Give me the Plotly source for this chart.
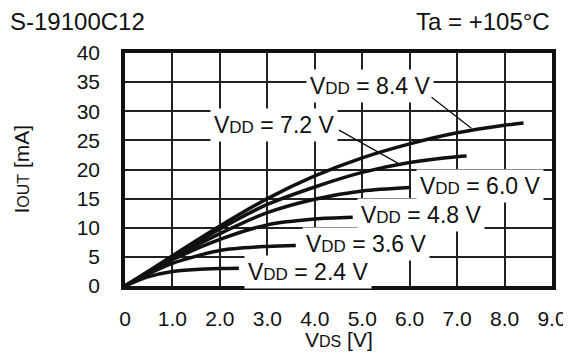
import plotly.graph_objects as go

# ---- data ----
vdd_labels = ["8.4", "7.2", "6.0", "4.8", "3.6", "2.4"]
x_84 = [0, 0.5, 1, 2, 3, 4, 5, 6, 7, 8, 8.4]
i_84 = [0, 2.6, 5.2, 10.3, 15.0, 18.9, 22.0, 24.4, 26.3, 27.6, 28.0]
x_72 = [0, 0.5, 1, 2, 3, 4, 5, 6, 7, 7.2]
i_72 = [0, 2.5, 5.0, 9.8, 14.0, 17.0, 19.5, 21.2, 22.2, 22.3]
x_60 = [0, 0.5, 1, 2, 3, 4, 5, 6]
i_60 = [0, 2.45, 4.8, 9.0, 12.6, 14.9, 16.3, 16.9]
x_48 = [0, 0.5, 1, 2, 3, 4, 4.8]
i_48 = [0, 2.3, 4.5, 8.0, 10.5, 11.5, 11.8]
x_36 = [0, 0.5, 1, 2, 3, 3.6]
i_36 = [0, 2.1, 3.9, 6.1, 6.8, 6.95]
x_24 = [0, 0.5, 1, 1.5, 2, 2.4]
i_24 = [0, 1.6, 2.5, 2.85, 3.0, 3.05]

xs = [x_84, x_72, x_60, x_48, x_36, x_24]
ys = [i_84, i_72, i_60, i_48, i_36, i_24]

# label anchor positions (data coords)
label_x = [5.16, 3.15, 7.48, 6.24, 5.07, 3.85]
label_y = [34.4, 27.6, 17.2, 12.2, 7.2, 2.45]
# pointer lines for labels (start -> end)
ptr_start = {"8.4": (6.43, 32.6), "7.2": (4.48, 26.9)}
ptr_end = {"8.4": (7.30, 27.1), "7.2": (5.75, 21.1)}

x_ticks = [0, 1, 2, 3, 4, 5, 6, 7, 8, 9]
x_ticktext = ["0", "1.0", "2.0", "3.0", "4.0", "5.0", "6.0", "7.0", "8.0", "9.0"]
y_ticks = [0, 5, 10, 15, 20, 25, 30, 35, 40]

FONT = "Arial, Liberation Sans, sans-serif"
INK = "#111111"

fig = go.Figure()
for xv, yv, lab in zip(xs, ys, vdd_labels):
    fig.add_trace(go.Scatter(x=xv, y=yv, mode="lines", name=lab,
                             line=dict(color=INK, width=3.5, shape="spline", smoothing=0.8),
                             showlegend=False, hoverinfo="skip"))

for lab, lx, ly in zip(vdd_labels, label_x, label_y):
    fig.add_annotation(x=lx, y=ly, xref="x", yref="y", showarrow=False,
                       text="V<span style='font-size:17px'>DD</span> = " + lab + " V",
                       font=dict(family=FONT, size=23, color=INK),
                       bgcolor="white", borderpad=3)

for lab in ptr_start:
    sx, sy = ptr_start[lab]
    ex, ey = ptr_end[lab]
    fig.add_annotation(x=ex, y=ey, ax=sx, ay=sy, xref="x", yref="y", axref="x", ayref="y",
                       text="", showarrow=True, arrowhead=0, arrowwidth=1.3,
                       arrowcolor=INK, standoff=0, startstandoff=0)

fig.add_annotation(x=0, y=1, xref="paper", yref="paper", xanchor="left", yanchor="middle",
                   text="S-19100C12", showarrow=False, xshift=-117, yshift=32,
                   font=dict(family=FONT, size=24, color=INK))
fig.add_annotation(x=1, y=1, xref="paper", yref="paper", xanchor="right", yanchor="middle",
                   text="Ta = +105°C", showarrow=False, yshift=32,
                   font=dict(family=FONT, size=24, color=INK))

# axis titles
fig.add_annotation(x=0.5, y=0, xref="paper", yref="paper", xanchor="center", yanchor="middle",
                   text="V<span style='font-size:16px'>DS</span> [V]", showarrow=False, yshift=-53,
                   font=dict(family=FONT, size=21, color=INK))
fig.add_annotation(x=0, y=0.5, xref="paper", yref="paper", xanchor="center", yanchor="middle",
                   text="I<span style='font-size:16px'>OUT</span> [mA]", showarrow=False,
                   xshift=-104, textangle=-90,
                   font=dict(family=FONT, size=21, color=INK))

fig.update_xaxes(range=[0, 9], tickvals=x_ticks, ticktext=x_ticktext,
                 showgrid=True, gridcolor="#222222", gridwidth=1.5,
                 showline=True, linecolor=INK, linewidth=3.5, mirror=True,
                 ticks="", zeroline=False, ticklabelstandoff=11, automargin=False,
                 ticklabeloverflow="allow",
                 tickfont=dict(family=FONT, size=21, color=INK))
fig.update_yaxes(range=[0, 40], tickvals=y_ticks,
                 showgrid=True, gridcolor="#222222", gridwidth=1.5,
                 showline=True, linecolor=INK, linewidth=3.5, mirror=True,
                 ticks="", zeroline=False, ticklabelstandoff=17, automargin=False,
                 ticklabeloverflow="allow",
                 tickfont=dict(family=FONT, size=21, color=INK))

# page body has an 8px margin, so the figure is sized/offset to compensate
fig.update_layout(width=563, height=352, margin=dict(l=117, r=19, t=45, b=74),
                  plot_bgcolor="white", paper_bgcolor="white")

fig.write_html("out.html")
